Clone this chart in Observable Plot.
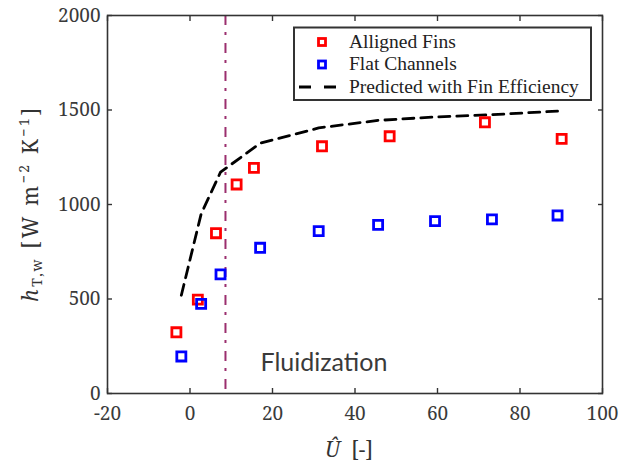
<!DOCTYPE html>
<html>
<head>
<meta charset="utf-8">
<script src="https://cdn.jsdelivr.net/npm/d3@7"></script>
<script src="https://cdn.jsdelivr.net/npm/@observablehq/plot@0.6"></script>
<style>
  html, body { margin: 0; padding: 0; background: #fff; }
  #chart svg { display: block; }
</style>
</head>
<body>
<div id="chart"></div>
<script>
// ---- data ----
const alignedX = [-3.3, 1.9, 6.3, 11.3, 15.5, 32.0, 48.4, 71.5, 90.1];
const alignedY = [324, 497, 848, 1106, 1194, 1308, 1361, 1435, 1347];
const flatX = [-2.1, 2.7, 7.4, 17.0, 31.2, 45.6, 59.4, 73.2, 89.1];
const flatY = [196, 474, 630, 771, 859, 892, 912, 921, 942];
const predX = [-2.1, 2.7, 7.4, 17.0, 31.2, 45.6, 59.4, 73.2, 89.1];
const predY = [520, 950, 1171, 1324, 1405, 1445, 1463, 1475, 1494];
const fluidizationX = [8.6];
const xTicks = [-20, 0, 20, 40, 60, 80, 100];
const yTicks = [0, 500, 1000, 1500, 2000];
const seriesNames = ["Alligned Fins", "Flat Channels", "Predicted with Fin Efficiency"];
const annotation = "Fluidization";

const aligned = alignedX.map((x, i) => ({x, y: alignedY[i]}));
const flat = flatX.map((x, i) => ({x, y: flatY[i]}));
const pred = predX.map((x, i) => ({x, y: predY[i]}));

const SERIF = "Liberation Serif";
const AXSERIF = "Noto Serif";
const axisColor = "#333";
const fmt = d => String(d);
const blank = () => "";

const chart = Plot.plot({
  width: 623,
  height: 464,
  marginLeft: 107,
  marginRight: 21,
  marginTop: 15,
  marginBottom: 71,
  style: {fontSize: "19px", color: axisColor, background: "#fff"},
  x: {domain: [-20, 100], ticks: xTicks, label: null},
  y: {domain: [0, 2000], ticks: yTicks, label: null},
  marks: [
    Plot.ruleX(fluidizationX, {stroke: "#9b2f6e", strokeWidth: 2, strokeDasharray: "10,7,3,8"}),
    Plot.line(pred, {x: "x", y: "y", stroke: "#000", strokeWidth: 2.8, strokeDasharray: "11,7"}),
    Plot.dot(aligned, {x: "x", y: "y", symbol: "square", r: 5.1, stroke: "#ff0000", strokeWidth: 2.8, fill: "none"}),
    Plot.dot(flat, {x: "x", y: "y", symbol: "square", r: 5.1, stroke: "#0000ff", strokeWidth: 2.8, fill: "none"}),
    Plot.text([annotation], {frameAnchor: "bottom-left", dx: 153, dy: -23, textAnchor: "start", lineAnchor: "bottom",
      fontSize: 25, fontFamily: "Lato", fill: "#3a3a3a"}),
    Plot.frame({stroke: axisColor, strokeWidth: 1.6}),
    Plot.axisX({anchor: "bottom", ticks: xTicks, tickSize: -5, tickPadding: 18, tickFormat: fmt, label: null, stroke: axisColor, strokeWidth: 1.4, fill: "#3a3a3a"}),
    Plot.axisX({anchor: "top", ticks: xTicks, tickSize: -5, tickFormat: blank, label: null, stroke: axisColor, strokeWidth: 1.4}),
    Plot.axisY({anchor: "left", ticks: yTicks, tickSize: -5, tickPadding: 12, tickFormat: fmt, label: null, stroke: axisColor, strokeWidth: 1.4, fill: "#3a3a3a"}),
    Plot.axisY({anchor: "right", ticks: yTicks, tickSize: -5, tickFormat: blank, label: null, stroke: axisColor, strokeWidth: 1.4})
  ]
});

document.getElementById("chart").appendChild(chart);

const svg = d3.select(chart);

// tick labels: serif font set directly on each text element
svg.selectAll("g[aria-label='x-axis tick label'], g[aria-label='y-axis tick label']")
  .attr("font-variant", null)
  .attr("font-family", AXSERIF);
svg.selectAll("g[aria-label='x-axis tick label'] text, g[aria-label='y-axis tick label'] text")
  .attr("font-family", AXSERIF)
  .attr("font-size", 19);

// y-axis label
const yl = svg.append("text")
  .attr("transform", "translate(38,205) rotate(-90)")
  .attr("text-anchor", "middle")
  .attr("font-family", AXSERIF)
  .attr("font-size", 21)
  .attr("fill", "#333")
  .attr("textLength", 194)
  .attr("lengthAdjust", "spacing");
yl.append("tspan").attr("font-family", AXSERIF).attr("font-style", "italic").text("h");
yl.append("tspan").attr("font-family", AXSERIF).attr("font-size", 14).attr("dy", 4).text("T,w");
yl.append("tspan").attr("font-family", AXSERIF).attr("dy", -4).text(" [W m");
yl.append("tspan").attr("font-family", AXSERIF).attr("font-size", 14).attr("dy", -9).text("−2");
yl.append("tspan").attr("font-family", AXSERIF).attr("dy", 9).text(" K");
yl.append("tspan").attr("font-family", AXSERIF).attr("font-size", 14).attr("dy", -9).text("−1");
yl.append("tspan").attr("font-family", AXSERIF).attr("dy", 9).text("]");

// x-axis label
const xl = svg.append("text")
  .attr("x", 349).attr("y", 457)
  .attr("text-anchor", "middle")
  .attr("font-family", AXSERIF)
  .attr("font-size", 21)
  .attr("fill", "#333");
xl.append("tspan").attr("font-family", AXSERIF).attr("font-style", "italic").text("Û");
xl.append("tspan").attr("font-family", AXSERIF).text("  [-]");

// legend
const lg = svg.append("g");
lg.append("rect").attr("x", 294).attr("y", 27.5).attr("width", 297).attr("height", 72.5)
  .attr("fill", "#fff").attr("stroke", "#333").attr("stroke-width", 2);
const rowsY = [42, 64.5, 87];
const colors = ["#ff0000", "#0000ff"];
colors.forEach((c, i) => {
  lg.append("rect").attr("x", 318.5).attr("y", rowsY[i] - 3.5).attr("width", 7).attr("height", 7)
    .attr("fill", "none").attr("stroke", c).attr("stroke-width", 2.8);
});
lg.append("line").attr("x1", 299).attr("x2", 337).attr("y1", rowsY[2]).attr("y2", rowsY[2])
  .attr("stroke", "#000").attr("stroke-width", 2.8).attr("stroke-dasharray", "12,13");
seriesNames.forEach((s, i) => {
  lg.append("text").attr("x", 349).attr("y", rowsY[i] + 5.5).attr("text-anchor", "start")
    .attr("font-family", SERIF).attr("font-size", 19.5).attr("fill", "#222").text(s);
});
</script>
</body>
</html>
